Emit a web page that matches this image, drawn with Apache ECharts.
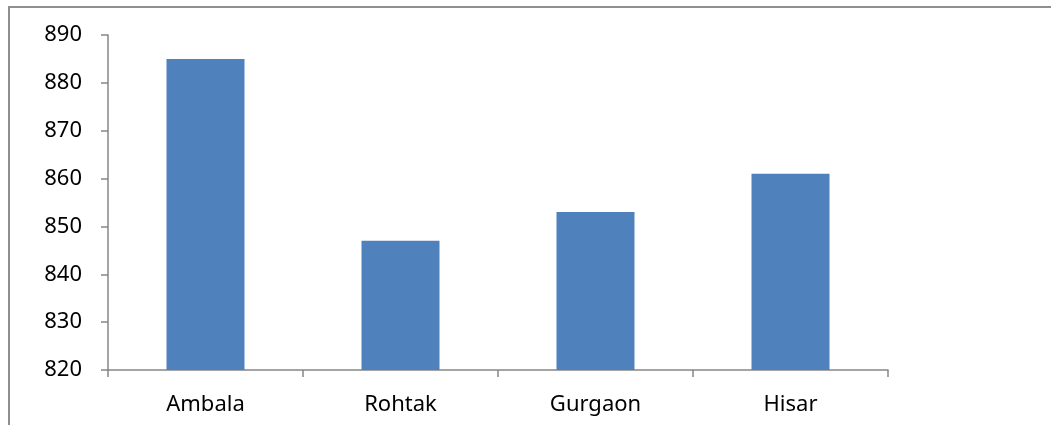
<!DOCTYPE html>
<html>
<head>
<meta charset="utf-8">
<script src="https://cdn.jsdelivr.net/npm/echarts@6/dist/echarts.min.js"></script>
<style>html,body{margin:0;padding:0;background:#fff;}#c{width:1051px;height:425px;}</style>
</head>
<body>
<div id="c"></div>
<script>
const categories = ['Ambala', 'Rohtak', 'Gurgaon', 'Hisar'];
const values = [885, 847, 853, 861];
const yTicks = { min: 820, max: 890, interval: 10 };

const chart = echarts.init(document.getElementById('c'), null, { renderer: 'canvas' });
const axisColor = '#868686';
const font = '"Noto Sans", "Open Sans", sans-serif';
chart.setOption({
  animation: false,
  backgroundColor: '#fff',
  graphic: [{
    type: 'rect',
    shape: { x: 9, y: 7, width: 1200, height: 600 },
    style: { fill: 'none', stroke: '#8f8f8f', lineWidth: 2 },
    silent: true
  }],
  grid: { left: 108, right: 163, top: 35, bottom: 55 },
  xAxis: {
    type: 'category',
    data: categories,
    axisLine: { lineStyle: { color: axisColor, width: 1.5 } },
    axisTick: { show: true, length: 7, lineStyle: { color: axisColor, width: 1.5 } },
    axisLabel: { color: '#000', fontSize: 22, fontFamily: font, margin: 24 }
  },
  yAxis: {
    type: 'value',
    min: yTicks.min, max: yTicks.max, interval: yTicks.interval,
    axisLine: { show: true, lineStyle: { color: axisColor, width: 1.5 } },
    axisTick: { show: true, length: 7, lineStyle: { color: axisColor, width: 1.5 } },
    splitLine: { show: false },
    axisLabel: { color: '#000', fontSize: 22, fontFamily: font, margin: 26 }
  },
  series: [{
    type: 'bar',
    data: values,
    barWidth: '40%',
    itemStyle: { color: '#4F81BD' }
  }]
});
</script>
</body>
</html>
